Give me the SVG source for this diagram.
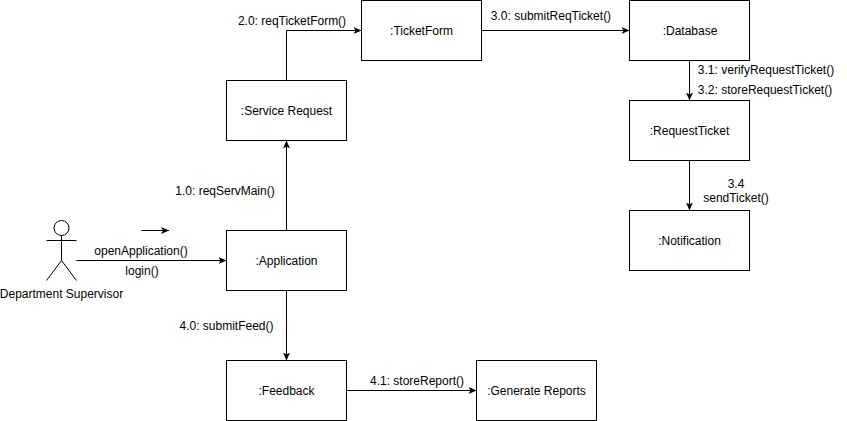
<svg xmlns="http://www.w3.org/2000/svg" width="847" height="421" viewBox="0 0 847 421">
<style>
text{font-family:"Liberation Sans",Arial,sans-serif;font-size:12px;fill:#000;text-anchor:middle}
.box{fill:#fff;stroke:#000;stroke-width:1}
.line{fill:none;stroke:#000;stroke-width:1}
</style>
<defs><marker id="arrow" markerUnits="userSpaceOnUse" markerWidth="9" markerHeight="8" refX="8" refY="3.500" orient="auto"><path d="M0 0L8 3.500L0 7L2 3.500Z" fill="#000"/></marker></defs>
<rect width="847" height="421" fill="#fff"/>
<g id="connectors">
<path class="line" d="M76.500 260.500H226.500" marker-end="url(#arrow)"/>
<path class="line" d="M286.500 230.500V140.500" marker-end="url(#arrow)"/>
<path class="line" d="M286.500 80.500V30.500H361.500" marker-end="url(#arrow)"/>
<path class="line" d="M481.500 30.500H629.500" marker-end="url(#arrow)"/>
<path class="line" d="M689.500 60.500V100.500" marker-end="url(#arrow)"/>
<path class="line" d="M689.500 160.500V210.500" marker-end="url(#arrow)"/>
<path class="line" d="M286.500 290.500V360.500" marker-end="url(#arrow)"/>
<path class="line" d="M346.500 390.500H476.500" marker-end="url(#arrow)"/>
<path class="line" d="M141.500 230.500H169" marker-end="url(#arrow)"/>
</g>
<g id="actor"><circle class="box" cx="61.500" cy="228" r="7.500"/><path class="line" d="M61.500 235.500V260.500M46.500 240.500H76.500M61.500 260.500L46.500 280.500M61.500 260.500L76.500 280.500"/><text x="61.500" y="298">Department Supervisor</text></g>
<g id="application"><rect class="box" x="226.500" y="230.500" width="120" height="60"/><text x="286.500" y="265">:Application</text></g>
<g id="service-request"><rect class="box" x="226.500" y="80.500" width="120" height="60"/><text x="286.500" y="115">:Service Request</text></g>
<g id="ticket-form"><rect class="box" x="361.500" y="0.500" width="120" height="60"/><text x="421.500" y="35">:TicketForm</text></g>
<g id="database"><rect class="box" x="629.500" y="0.500" width="120" height="60"/><text x="690" y="35">:Database</text></g>
<g id="request-ticket"><rect class="box" x="629.500" y="100.500" width="120" height="60"/><text x="689.500" y="135">:RequestTicket</text></g>
<g id="notification"><rect class="box" x="629.500" y="210.500" width="120" height="60"/><text x="689.500" y="245">:Notification</text></g>
<g id="feedback"><rect class="box" x="226.500" y="360.500" width="120" height="60"/><text x="286.500" y="395">:Feedback</text></g>
<g id="generate-reports"><rect class="box" x="476.500" y="360.500" width="120" height="60"/><text x="536.500" y="395">:Generate Reports</text></g>
<g id="labels">
<text x="141" y="255">openApplication()</text>
<text x="142" y="275">login()</text>
<text x="225" y="195">1.0: reqServMain()</text>
<text x="292" y="25">2.0: reqTicketForm()</text>
<text x="551" y="20">3.0: submitReqTicket()</text>
<text x="766" y="74">3.1: verifyRequestTicket()</text>
<text x="765" y="94">3.2: storeRequestTicket()</text>
<text x="736" y="188">3.4</text>
<text x="736" y="202">sendTicket()</text>
<text x="226.500" y="330">4.0: submitFeed()</text>
<text x="417" y="385">4.1: storeReport()</text>
</g>
</svg>
